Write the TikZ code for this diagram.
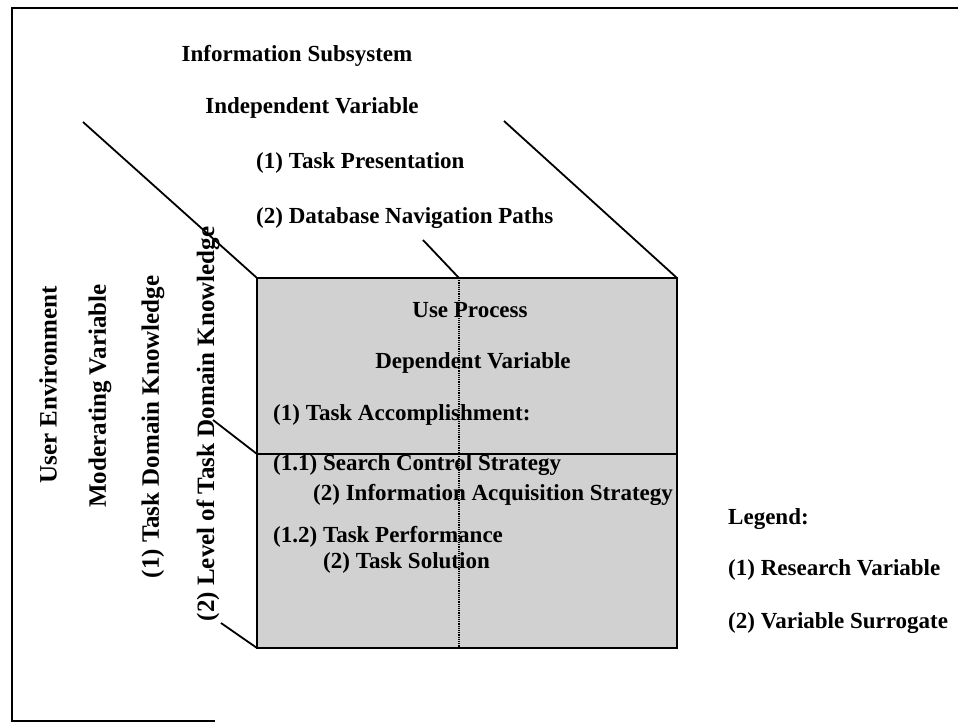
\documentclass[tikz,border=0pt]{standalone}
\usepackage{fontspec}
\setmainfont{Liberation Serif}
\begin{document}
\begin{tikzpicture}[x=1pt,y=-1pt,
  lbl/.style={font=\fontsize{23}{26}\selectfont\bfseries, inner sep=0pt},
  vlbl/.style={font=\fontsize{25}{28}\selectfont\bfseries, inner sep=0pt, rotate=90},
  frameline/.style={line width=2.6pt, black},
  edge/.style={line width=1.8pt, black},
  face/.style={fill=black!18, draw=black, line width=1.8pt}]
\useasboundingbox (0,0) rectangle (958,723);
% outer frame (top, left, piece of bottom)
\coordinate (fbl) at (12,721);
\coordinate (ftl) at (12,8);
\coordinate (ftr) at (958,8);
\coordinate (fbe) at (215,721);
\draw[frameline] (fbe) -- (fbl) -- (ftl) -- (ftr);
% front face of the cube
\coordinate (tl) at (257,278);
\coordinate (tr) at (677,278);
\coordinate (br) at (677,648);
\coordinate (bl) at (257,648);
\coordinate (ml) at (257,454);
\coordinate (mr) at (677,454);
\coordinate (tm) at (459,278);
\coordinate (bm) at (459,648);
\filldraw[face] (tl) -- (tr) -- (br) -- (bl) -- cycle;
\draw[edge] (ml) -- (mr);
\draw[line width=1.2pt, densely dotted] (tm) -- (bm);
% receding edges
\coordinate (d1) at (83,122);
\coordinate (d2) at (504,121);
\coordinate (d3) at (423,240);
\coordinate (d4) at (213,420);
\coordinate (d5) at (221,623);
\draw[edge] (d1) -- (tl);
\draw[edge] (d2) -- (tr);
\draw[edge] (d3) -- (tm);
\draw[edge] (d4) -- (ml);
\draw[edge] (d5) -- (bl);
% top texts
\node[lbl] (info) at (297,56) {Information Subsystem};
\node[lbl] (indep) at (312,108) {Independent Variable};
\node[lbl, anchor=west] (tpres) at (256,163) {(1) Task Presentation};
\node[lbl, anchor=west] (dbnav) at (256,218) {(2) Database Navigation Paths};
% face texts
\node[lbl] (useproc) at (470,310) {Use Process};
\node[lbl] (depvar) at (473,363) {Dependent Variable};
\node[lbl, anchor=west] (tacc) at (273,415) {(1) Task Accomplishment:};
\node[lbl, anchor=west] (scs) at (273,465) {(1.1) Search Control Strategy};
\node[lbl, anchor=west] (ias) at (313,495) {(2) Information Acquisition Strategy};
\node[lbl, anchor=west] (tperf) at (273,537) {(1.2) Task Performance};
\node[lbl, anchor=west] (tsol) at (323,563) {(2) Task Solution};
% left vertical texts
\node[vlbl] (uenv) at (48,385) {User Environment};
\node[vlbl] (modv) at (100,396) {Moderating Variable};
\node[vlbl] (tdk) at (153,427) {(1) Task Domain Knowledge};
\node[vlbl] (ltdk) at (208,424) {(2) Level of Task Domain Knowledge};
% legend
\node[lbl, anchor=west] (leg) at (728,519) {Legend:};
\node[lbl, anchor=west] (leg1) at (728,570) {(1) Research Variable};
\node[lbl, anchor=west] (leg2) at (728,623) {(2) Variable Surrogate};
\end{tikzpicture}
\end{document}
